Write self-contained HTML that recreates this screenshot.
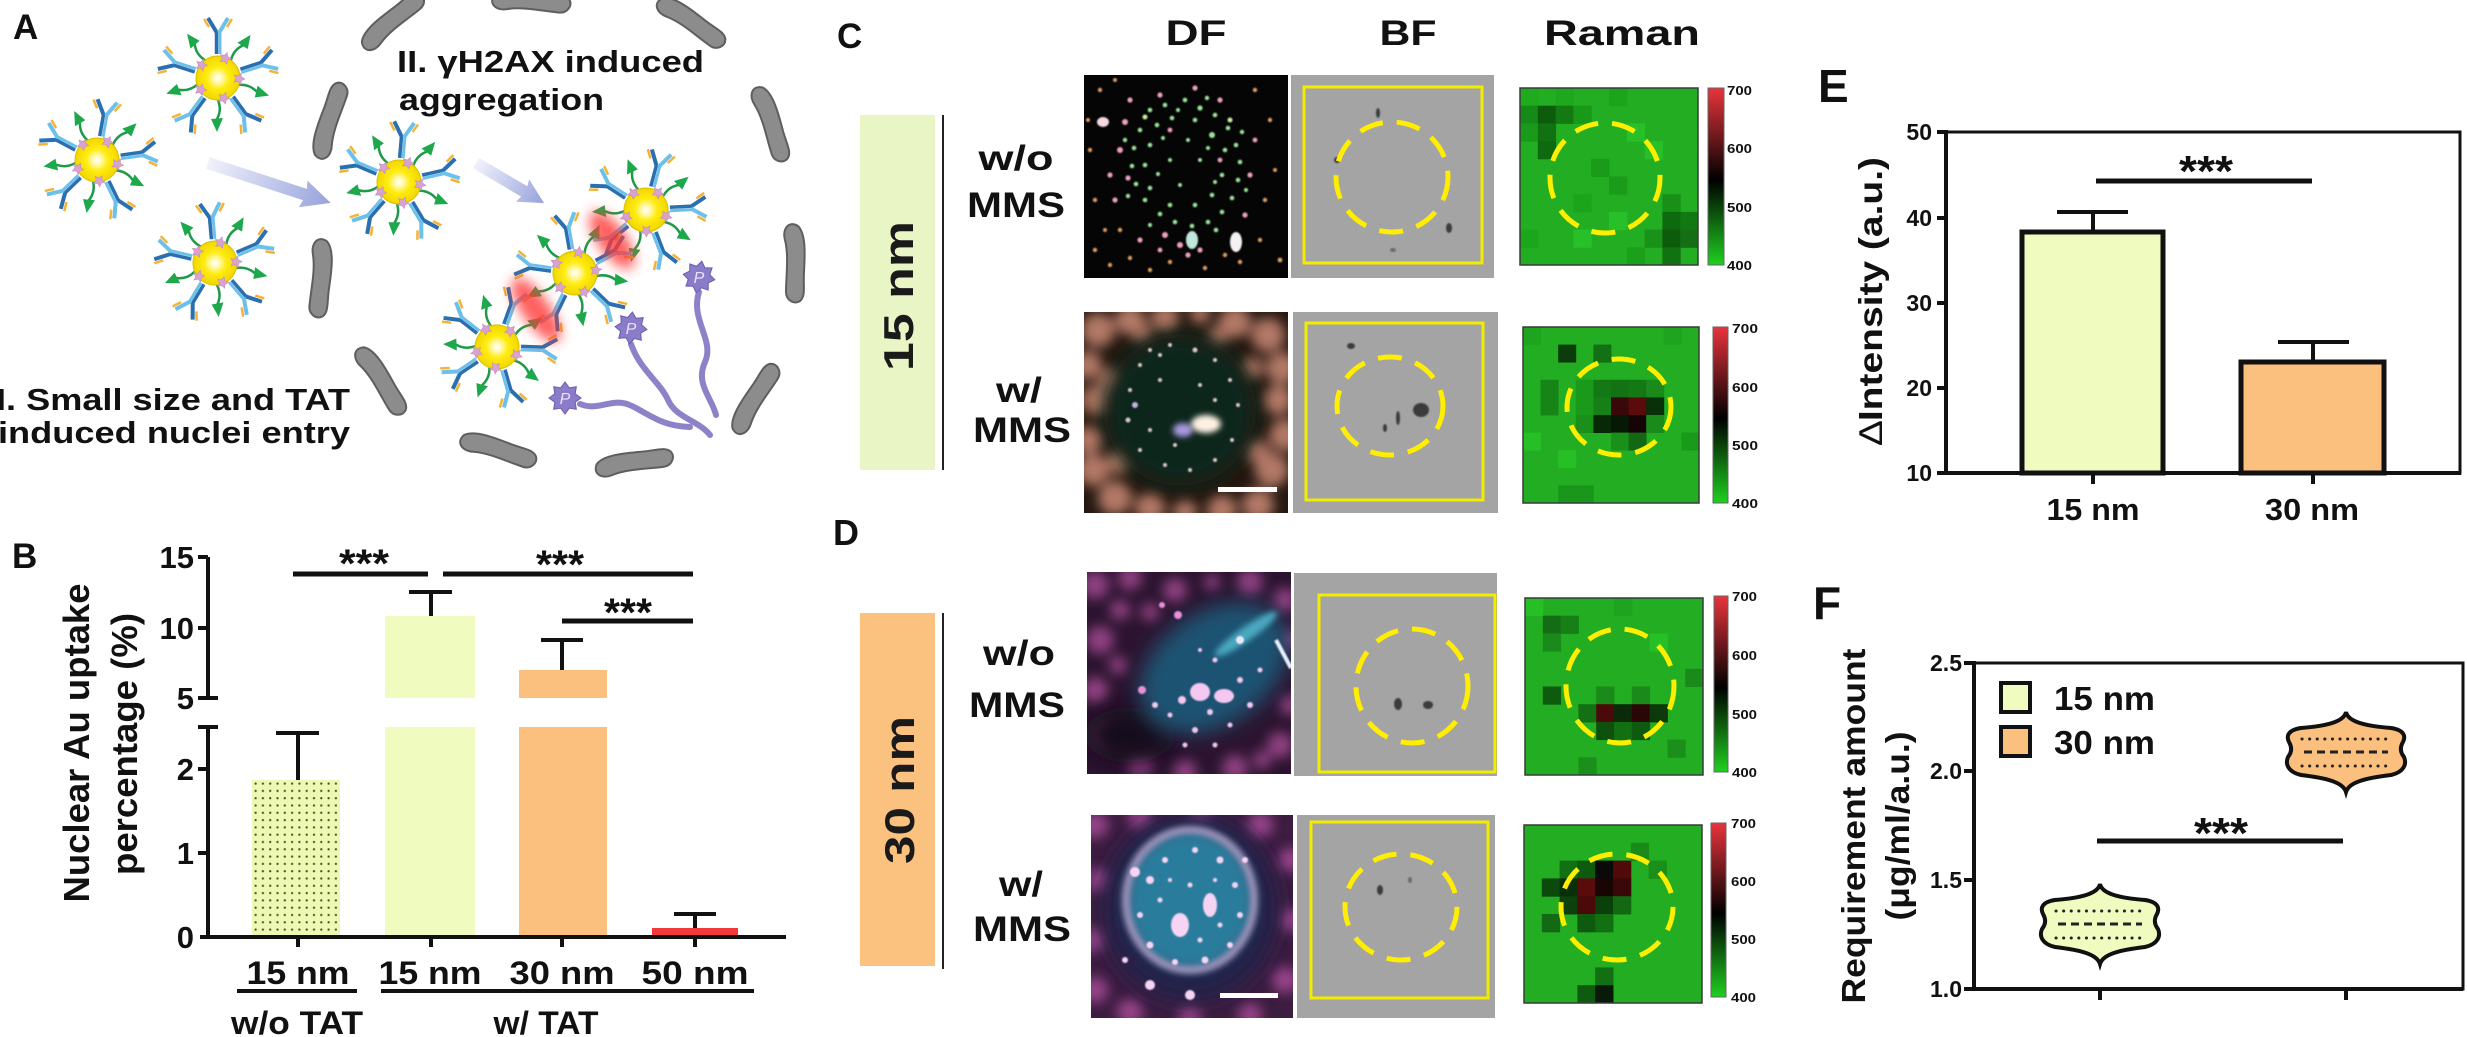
<!DOCTYPE html>
<html><head><meta charset="utf-8">
<style>
html,body{margin:0;padding:0;background:#fff;}
svg{display:block;}
text{font-family:"Liberation Sans",Arial,sans-serif;font-weight:bold;fill:#111;}
</style></head><body>
<svg width="2467" height="1037" viewBox="0 0 2467 1037" xmlns="http://www.w3.org/2000/svg">
<defs>
 <radialGradient id="gold" cx="0.5" cy="0.5" r="0.5">
  <stop offset="0" stop-color="#ffffff"/>
  <stop offset="0.22" stop-color="#fff8a8"/>
  <stop offset="0.5" stop-color="#ffec10"/>
  <stop offset="1" stop-color="#f0d600"/>
 </radialGradient>
 <linearGradient id="arrowg" x1="0" y1="0" x2="1" y2="0">
  <stop offset="0" stop-color="#eef0fa"/>
  <stop offset="1" stop-color="#8c98d8"/>
 </linearGradient>
 <linearGradient id="cbar" x1="0" y1="0" x2="0" y2="1">
  <stop offset="0" stop-color="#e8343c"/>
  <stop offset="0.52" stop-color="#000"/>
  <stop offset="1" stop-color="#1fd01f"/>
 </linearGradient>
 <filter id="b1" x="-20%" y="-20%" width="140%" height="140%"><feGaussianBlur stdDeviation="0.9"/></filter>
 <filter id="b3" x="-50%" y="-50%" width="200%" height="200%"><feGaussianBlur stdDeviation="3"/></filter>
 <filter id="b6" x="-50%" y="-50%" width="200%" height="200%"><feGaussianBlur stdDeviation="6"/></filter>
 <filter id="b10" x="-50%" y="-50%" width="200%" height="200%"><feGaussianBlur stdDeviation="10"/></filter>
 <pattern id="dots" width="7.3" height="7.3" patternUnits="userSpaceOnUse" x="252" y="780">
  <rect width="7.3" height="7.3" fill="#eef8b2"/>
  <circle cx="3.6" cy="3.6" r="1.15" fill="#3c5a2a"/>
 </pattern>
 <clipPath id="c1"><rect x="1084" y="75" width="204" height="203"/></clipPath>
 <clipPath id="c2"><rect x="1084" y="312" width="204" height="201"/></clipPath>
 <clipPath id="c3"><rect x="1087" y="572" width="204" height="202"/></clipPath>
 <clipPath id="c4"><rect x="1091" y="815" width="202" height="203"/></clipPath>

 <g id="ab">
  <path d="M-1.5,-24 L-1.5,-46" stroke="#2a6fb0" stroke-width="3.5"/>
  <path d="M2,-24 L2,-46" stroke="#6cc0ea" stroke-width="3"/>
  <path d="M-1,-45 L-10,-60" stroke="#2a6fb0" stroke-width="4" fill="none"/>
  <path d="M1,-45 L10,-60" stroke="#6cc0ea" stroke-width="4" fill="none"/>
  <path d="M-9,-51 L-14,-59" stroke="#f5b233" stroke-width="2.5"/>
  <path d="M9,-51 L14,-59" stroke="#f5b233" stroke-width="2.5"/>
 </g>
 <g id="ar">
  <path d="M0,-22 Q-4,-32 1,-41" stroke="#1e9a48" stroke-width="2.5" fill="none"/>
  <polygon points="1,-54 -5,-40 7,-41" fill="#1ea84c"/>
 </g>
 <polygon id="st" points="0,-6 1.76,-2.43 5.71,-1.85 2.85,0.93 3.53,4.85 0,3 -3.53,4.85 -2.85,0.93 -5.71,-1.85 -1.76,-2.43" fill="#d9a3cf" stroke="#c08cbc" stroke-width="0.6"/>
 <g id="np">
  <use href="#ab"/>
  <use href="#ab" transform="rotate(72)"/>
  <use href="#ab" transform="rotate(144)"/>
  <use href="#ab" transform="rotate(216)"/>
  <use href="#ab" transform="rotate(288)"/>
  <use href="#ar" transform="rotate(36)"/>
  <use href="#ar" transform="rotate(108)"/>
  <use href="#ar" transform="rotate(180)"/>
  <use href="#ar" transform="rotate(252)"/>
  <use href="#ar" transform="rotate(324)"/>
  <circle r="22" fill="url(#gold)" stroke="#dcc000" stroke-width="1"/>
  <use href="#st" transform="rotate(20) translate(0,-21)"/>
  <use href="#st" transform="rotate(92) translate(0,-21)"/>
  <use href="#st" transform="rotate(164) translate(0,-21)"/>
  <use href="#st" transform="rotate(236) translate(0,-21)"/>
  <use href="#st" transform="rotate(308) translate(0,-21)"/>
 </g>
 <path id="bean" d="M-36,-4 C-28,-12 -8,-11 10,-10 C24,-9 34,-12 39,-6 C43,0 38,8 30,8 C14,8 -6,5 -22,9 C-32,12 -42,6 -36,-4 Z" fill="#8c8c8c" stroke="#5e5e5e" stroke-width="2"/>
 <g id="pstar">
  <polygon points="0,-16 4.21,-10.16 11.31,-11.31 10.16,-4.21 16,0 10.16,4.21 11.31,11.31 4.21,10.16 0,16 -4.21,10.16 -11.31,11.31 -10.16,4.21 -16,0 -10.16,-4.21 -11.31,-11.31 -4.21,-10.16" fill="#8a7cc8" stroke="#6a5cb0" stroke-width="1"/>
 </g>
</defs>
<rect width="2467" height="1037" fill="#fff"/>

<!-- ================= PANEL A ================= -->
<text x="13" y="39" font-size="35">A</text>
<g>
 <use href="#bean" transform="translate(392,22) rotate(-40)"/>
 <use href="#bean" transform="translate(530,2) rotate(5)"/>
 <use href="#bean" transform="translate(690,22) rotate(35)"/>
 <use href="#bean" transform="translate(330,122) rotate(-72)"/>
 <use href="#bean" transform="translate(770,123) rotate(72)"/>
 <use href="#bean" transform="translate(320,277) rotate(95)"/>
 <use href="#bean" transform="translate(794,262) rotate(90)"/>
 <use href="#bean" transform="translate(380,380) rotate(58)"/>
 <use href="#bean" transform="translate(755,400) rotate(-58)"/>
 <use href="#bean" transform="translate(497,450) rotate(18)"/>
 <use href="#bean" transform="translate(633,463) rotate(-8)"/>
</g>
<g transform="translate(208,163) rotate(18)" opacity="0.9">
 <polygon points="0,-6 102,-6 100,-14 129,0 100,14 102,6 0,6" fill="url(#arrowg)"/>
</g>
<g transform="translate(476,163) rotate(30.5)" opacity="0.9">
 <polygon points="0,-6 56,-6 54,-13 79,0 54,13 56,6 0,6" fill="url(#arrowg)"/>
</g>
<g fill="none" stroke="#8d82c8" stroke-width="6" stroke-linecap="round">
 <path d="M699,292 C690,320 715,340 705,362 S 712,398 716,415"/>
 <path d="M631,344 C640,370 660,382 668,400 S 698,420 710,435"/>
 <path d="M580,404 C600,412 612,396 632,406 S 662,426 690,427"/>
</g>
<use href="#np" transform="translate(218,78)"/>
<use href="#np" transform="translate(97,160) rotate(10)"/>
<use href="#np" transform="translate(215,263) rotate(-5)"/>
<use href="#np" transform="translate(399,182) rotate(5)"/>
<use href="#np" transform="translate(646,210) rotate(15)"/>
<use href="#np" transform="translate(575,273) rotate(-10)"/>
<use href="#np" transform="translate(497,347) rotate(20)"/>
<use href="#pstar" transform="translate(699,277) rotate(10)"/>
<use href="#pstar" transform="translate(631,328) rotate(5)"/>
<use href="#pstar" transform="translate(565,398)"/>
<text x="699" y="283" font-size="16" font-style="italic" text-anchor="middle" style="fill:#e8e4ff;font-weight:normal">P</text>
<text x="631" y="334" font-size="16" font-style="italic" text-anchor="middle" style="fill:#e8e4ff;font-weight:normal">P</text>
<text x="565" y="404" font-size="16" font-style="italic" text-anchor="middle" style="fill:#e8e4ff;font-weight:normal">P</text>
<g filter="url(#b6)" opacity="0.8" fill="#ff3838">
 <ellipse cx="0" cy="0" rx="34" ry="14" transform="translate(612,240) rotate(55)"/>
 <ellipse cx="0" cy="0" rx="38" ry="14" transform="translate(536,310) rotate(55)"/>
</g>
<text x="397" y="72" font-size="31" textLength="307" lengthAdjust="spacingAndGlyphs">II. γH2AX induced</text>
<text x="399" y="110" font-size="31" textLength="205" lengthAdjust="spacingAndGlyphs">aggregation</text>
<text x="-4" y="410" font-size="31" textLength="354" lengthAdjust="spacingAndGlyphs">I. Small size and TAT</text>
<text x="-2" y="443" font-size="31" textLength="352" lengthAdjust="spacingAndGlyphs">induced nuclei entry</text>

<!-- ================= PANEL B ================= -->
<text x="12" y="568" font-size="35">B</text>
<text transform="translate(89,743) rotate(-90)" text-anchor="middle" font-size="36" textLength="319" lengthAdjust="spacingAndGlyphs">Nuclear Au uptake</text>
<text transform="translate(137,744) rotate(-90)" text-anchor="middle" font-size="36" textLength="262" lengthAdjust="spacingAndGlyphs">percentage (%)</text>
<rect x="252" y="780" width="88" height="157" fill="url(#dots)"/>
<rect x="385" y="727" width="90" height="210" fill="#f0fcbf"/>
<rect x="385" y="616" width="90" height="82" fill="#f0fcbf"/>
<rect x="519" y="727" width="88" height="210" fill="#fcc07e"/>
<rect x="519" y="670" width="88" height="28" fill="#fcc07e"/>
<rect x="652" y="928" width="86" height="9" fill="#f23a3a"/>
<g stroke="#111" stroke-width="4" fill="none">
 <path d="M298,780 V733 M276,733 H319"/>
 <path d="M431,616 V592 M409,592 H452"/>
 <path d="M562,670 V640 M541,640 H583"/>
 <path d="M695,928 V914 M674,914 H716"/>
</g>
<g stroke="#111" stroke-width="4" fill="none">
 <path d="M208,557 V698"/>
 <path d="M208,727 V937"/>
 <path d="M198,698 H218 M198,727 H218"/>
 <path d="M198,557 H208 M198,628 H208 M198,769 H208 M198,853 H208"/>
 <path d="M200,937 H786"/>
 <path d="M298,937 V947 M431,937 V947 M562,937 V947 M695,937 V947"/>
</g>
<g font-size="31" text-anchor="end">
 <text x="194" y="568">15</text>
 <text x="194" y="639">10</text>
 <text x="194" y="709">5</text>
 <text x="194" y="780">2</text>
 <text x="194" y="864">1</text>
 <text x="194" y="948">0</text>
</g>
<g stroke="#111" stroke-width="5">
 <path d="M293,574 H428"/>
 <path d="M443,574 H693"/>
 <path d="M562,621 H693"/>
</g>
<g font-size="40" text-anchor="middle">
 <text x="364" y="577" textLength="50" lengthAdjust="spacingAndGlyphs">***</text>
 <text x="560" y="578" textLength="48" lengthAdjust="spacingAndGlyphs">***</text>
 <text x="628" y="626" textLength="48" lengthAdjust="spacingAndGlyphs">***</text>
</g>
<g font-size="32" text-anchor="middle">
 <text x="298" y="984" textLength="103" lengthAdjust="spacingAndGlyphs">15 nm</text>
 <text x="430" y="984" textLength="103" lengthAdjust="spacingAndGlyphs">15 nm</text>
 <text x="562" y="984" textLength="105" lengthAdjust="spacingAndGlyphs">30 nm</text>
 <text x="695" y="984" textLength="107" lengthAdjust="spacingAndGlyphs">50 nm</text>
 <text x="297" y="1034" textLength="132" lengthAdjust="spacingAndGlyphs">w/o TAT</text>
 <text x="546" y="1034" textLength="105" lengthAdjust="spacingAndGlyphs">w/ TAT</text>
</g>
<g stroke="#111" stroke-width="4">
 <path d="M237,991 H357"/>
 <path d="M381,991 H754"/>
</g>

<!-- ================= PANEL C / D labels ================= -->
<text x="837" y="48" font-size="35">C</text>
<text x="833" y="545" font-size="36">D</text>
<g font-size="35" text-anchor="middle">
 <text x="1196" y="45" textLength="61" lengthAdjust="spacingAndGlyphs">DF</text>
 <text x="1408" y="45" textLength="57" lengthAdjust="spacingAndGlyphs">BF</text>
 <text x="1622" y="45" textLength="156" lengthAdjust="spacingAndGlyphs">Raman</text>
</g>
<rect x="860" y="115" width="75" height="355" fill="#eaf5c6"/>
<rect x="860" y="613" width="75" height="353" fill="#fbc17f"/>
<text transform="translate(913,296) rotate(-90)" text-anchor="middle" font-size="42" textLength="150" lengthAdjust="spacingAndGlyphs" style="fill:#1a1a1a">15 nm</text>
<text transform="translate(914,790) rotate(-90)" text-anchor="middle" font-size="42" textLength="148" lengthAdjust="spacingAndGlyphs" style="fill:#1a1a1a">30 nm</text>
<g stroke="#222" stroke-width="2">
 <path d="M943,115 V470"/>
 <path d="M943,613 V969"/>
</g>
<g font-size="35" text-anchor="middle">
 <text x="1016" y="170" textLength="75" lengthAdjust="spacingAndGlyphs">w/o</text>
 <text x="1016" y="217" textLength="98" lengthAdjust="spacingAndGlyphs">MMS</text>
 <text x="1019" y="402" textLength="46" lengthAdjust="spacingAndGlyphs">w/</text>
 <text x="1022" y="442" textLength="98" lengthAdjust="spacingAndGlyphs">MMS</text>
 <text x="1019" y="665" textLength="72" lengthAdjust="spacingAndGlyphs">w/o</text>
 <text x="1017" y="717" textLength="96" lengthAdjust="spacingAndGlyphs">MMS</text>
 <text x="1021" y="896" textLength="44" lengthAdjust="spacingAndGlyphs">w/</text>
 <text x="1022" y="941" textLength="98" lengthAdjust="spacingAndGlyphs">MMS</text>
</g>

<!-- DF1 -->
<g clip-path="url(#c1)">
 <rect x="1084" y="75" width="204" height="203" fill="#050505"/>
 <g filter="url(#b1)">
 <g fill="#9ae39a">
  <circle cx="1150" cy="110" r="2.3"/><circle cx="1165" cy="105" r="2.3"/><circle cx="1185" cy="100" r="2.3"/><circle cx="1200" cy="108" r="2.6"/><circle cx="1215" cy="115" r="2.3"/><circle cx="1228" cy="128" r="2.3"/><circle cx="1236" cy="145" r="2.3"/><circle cx="1240" cy="162" r="2.3"/><circle cx="1238" cy="180" r="2.3"/><circle cx="1232" cy="198" r="2.3"/><circle cx="1222" cy="212" r="2.3"/><circle cx="1208" cy="222" r="2.3"/><circle cx="1192" cy="226" r="2.3"/><circle cx="1175" cy="222" r="2.3"/><circle cx="1160" cy="214" r="2.3"/><circle cx="1145" cy="200" r="2.3"/><circle cx="1136" cy="184" r="2.3"/><circle cx="1132" cy="166" r="2.3"/><circle cx="1134" cy="148" r="2.3"/><circle cx="1140" cy="130" r="2.3"/><circle cx="1157" cy="125" r="2.3"/><circle cx="1172" cy="118" r="2.3"/><circle cx="1195" cy="120" r="2.3"/><circle cx="1212" cy="135" r="3"/><circle cx="1225" cy="150" r="2.3"/><circle cx="1222" cy="175" r="2.3"/><circle cx="1212" cy="195" r="2.3"/><circle cx="1195" cy="205" r="2.3"/><circle cx="1170" cy="205" r="2.3"/><circle cx="1150" cy="188" r="2.3"/><circle cx="1145" cy="165" r="2.3"/><circle cx="1150" cy="145" r="2.3"/><circle cx="1188" cy="140" r="2"/><circle cx="1200" cy="160" r="2"/><circle cx="1170" cy="160" r="2"/><circle cx="1180" cy="185" r="2"/>
  <circle cx="1207" cy="98" r="2.2"/><circle cx="1178" cy="110" r="2"/><circle cx="1242" cy="132" r="2.2"/><circle cx="1246" cy="190" r="2"/><circle cx="1216" cy="230" r="2.3"/><circle cx="1150" cy="225" r="2.1"/><circle cx="1128" cy="196" r="2.2"/><circle cx="1125" cy="140" r="2.2"/><circle cx="1163" cy="138" r="2"/><circle cx="1208" cy="148" r="2"/><circle cx="1215" cy="182" r="2"/><circle cx="1158" cy="174" r="2"/><circle cx="1230" cy="120" r="2.5" fill="#c8f0a0"/><circle cx="1145" cy="117" r="2.5" fill="#c8f0a0"/>
 </g>
 <g fill="#ee9fbd">
  <circle cx="1120" cy="150" r="3"/><circle cx="1160" cy="95" r="2.6"/><circle cx="1220" cy="100" r="2.6"/><circle cx="1250" cy="175" r="2.6"/><circle cx="1245" cy="215" r="2.6"/><circle cx="1180" cy="245" r="3"/><circle cx="1140" cy="240" r="2.6"/><circle cx="1115" cy="200" r="2.6"/><circle cx="1110" cy="175" r="2.6"/><circle cx="1200" cy="250" r="2.6"/><circle cx="1130" cy="100" r="2.6"/><circle cx="1195" cy="88" r="2.6"/><circle cx="1165" cy="235" r="3"/>
  <circle cx="1125" cy="122" r="3"/><circle cx="1128" cy="178" r="2.6"/><circle cx="1170" cy="130" r="2.4"/><circle cx="1220" cy="160" r="2.4"/><circle cx="1255" cy="140" r="2.4"/><circle cx="1188" cy="255" r="2.6"/><circle cx="1160" cy="250" r="2.4"/>
 </g>
 <g fill="#d99b5c">
  <circle cx="1095" cy="250" r="2.2"/><circle cx="1110" cy="265" r="2.2"/><circle cx="1130" cy="258" r="2.2"/><circle cx="1150" cy="270" r="2.2"/><circle cx="1170" cy="262" r="2.2"/><circle cx="1205" cy="268" r="2.2"/><circle cx="1240" cy="262" r="2.2"/><circle cx="1260" cy="240" r="2.2"/><circle cx="1265" cy="200" r="2.2"/><circle cx="1100" cy="90" r="2.2"/><circle cx="1090" cy="150" r="2.2"/><circle cx="1095" cy="200" r="2.2"/><circle cx="1270" cy="120" r="2.2"/><circle cx="1255" cy="90" r="2.2"/><circle cx="1120" cy="230" r="2.2"/>
  <circle cx="1105" cy="230" r="2"/><circle cx="1280" cy="260" r="2.4"/><circle cx="1225" cy="255" r="2.2"/><circle cx="1115" cy="80" r="2"/><circle cx="1275" cy="170" r="2"/><circle cx="1088" cy="120" r="2"/>
 </g>
 <ellipse cx="1103" cy="122" rx="6" ry="5" fill="#f6d8e0"/>
 <ellipse cx="1236" cy="242" rx="6" ry="10" fill="#f4f0f4"/>
 <ellipse cx="1192" cy="240" rx="6" ry="9" fill="#bfe8dc"/>
 </g>
</g>

<!-- DF2 -->
<g clip-path="url(#c2)">
 <rect x="1084" y="312" width="204" height="201" fill="#24170f"/>
 <g filter="url(#b6)" fill="#b27866">
  <circle cx="1098" cy="330" r="17"/><circle cx="1130" cy="320" r="15"/><circle cx="1165" cy="318" r="14"/><circle cx="1235" cy="322" r="16"/><circle cx="1268" cy="335" r="17"/><circle cx="1282" cy="368" r="16"/><circle cx="1278" cy="400" r="15"/><circle cx="1285" cy="435" r="16"/><circle cx="1272" cy="470" r="17"/><circle cx="1258" cy="505" r="16"/><circle cx="1222" cy="510" r="15"/><circle cx="1185" cy="512" r="12"/><circle cx="1150" cy="508" r="15"/><circle cx="1115" cy="498" r="17"/><circle cx="1093" cy="470" r="16"/><circle cx="1089" cy="440" r="14"/><circle cx="1096" cy="400" r="15"/><circle cx="1088" cy="365" r="14"/><circle cx="1200" cy="314" r="10"/>
  <circle cx="1110" cy="380" r="12"/><circle cx="1252" cy="368" r="11"/><circle cx="1258" cy="452" r="12"/><circle cx="1118" cy="462" r="12"/><circle cx="1142" cy="333" r="10"/><circle cx="1218" cy="336" r="10"/>
 </g>
 <circle cx="1180" cy="410" r="76" fill="#10271f" filter="url(#b10)"/>
 <g fill="#dcc8c0" filter="url(#b1)">
  <circle cx="1150" cy="350" r="2"/><circle cx="1170" cy="345" r="2"/><circle cx="1195" cy="350" r="2.5"/><circle cx="1215" cy="360" r="2"/><circle cx="1230" cy="380" r="2"/><circle cx="1238" cy="405" r="2"/><circle cx="1232" cy="440" r="2"/><circle cx="1215" cy="460" r="2"/><circle cx="1190" cy="470" r="2"/><circle cx="1165" cy="465" r="2"/><circle cx="1140" cy="450" r="2"/><circle cx="1128" cy="420" r="2.5"/><circle cx="1130" cy="390" r="2"/><circle cx="1140" cy="365" r="2"/><circle cx="1160" cy="380" r="2"/><circle cx="1200" cy="385" r="2"/><circle cx="1215" cy="400" r="2"/><circle cx="1150" cy="430" r="2"/><circle cx="1175" cy="445" r="2"/><circle cx="1160" cy="355" r="2"/><circle cx="1135" cy="405" r="3" fill="#c8b0e0"/>
 </g>
 <ellipse cx="1183" cy="430" rx="10" ry="7" fill="#a898e0" filter="url(#b3)"/>
 <ellipse cx="1206" cy="424" rx="15" ry="9" fill="#fff2e4" filter="url(#b3)"/>
 <rect x="1218" y="487" width="59" height="5" fill="#fff"/>
</g>

<!-- DF3 -->
<g clip-path="url(#c3)">
 <rect x="1087" y="572" width="204" height="202" fill="#2c1430"/>
 <g filter="url(#b6)" fill="#a04890" opacity="0.85">
  <circle cx="1095" cy="585" r="14"/><circle cx="1130" cy="578" r="12"/><circle cx="1175" cy="590" r="12"/><circle cx="1250" cy="582" r="13"/><circle cx="1285" cy="600" r="12"/><circle cx="1290" cy="640" r="10"/><circle cx="1100" cy="640" r="14"/><circle cx="1095" cy="690" r="13"/><circle cx="1105" cy="735" r="12"/><circle cx="1140" cy="765" r="13"/><circle cx="1185" cy="772" r="12"/><circle cx="1235" cy="768" r="13"/><circle cx="1280" cy="745" r="13"/><circle cx="1290" cy="705" r="10"/><circle cx="1120" cy="610" r="10"/>
  <circle cx="1150" cy="612" r="9"/><circle cx="1118" cy="665" r="9"/><circle cx="1212" cy="582" r="8"/><circle cx="1262" cy="760" r="9"/>
 </g>
 <ellipse cx="1130" cy="735" rx="45" ry="28" fill="#140a1e" filter="url(#b10)"/>
 <ellipse cx="0" cy="0" rx="82" ry="56" fill="#1d5272" filter="url(#b10)" transform="translate(1214,668) rotate(-35)"/>
 <ellipse cx="0" cy="0" rx="38" ry="7" fill="#4aa8c0" filter="url(#b3)" transform="translate(1246,634) rotate(-35)"/>
 <g fill="#f4c8f0" filter="url(#b1)">
  <ellipse cx="1200" cy="692" rx="10" ry="9"/><ellipse cx="1224" cy="696" rx="10" ry="7"/><circle cx="1182" cy="700" r="4"/><circle cx="1210" cy="712" r="3"/><circle cx="1240" cy="680" r="3"/><circle cx="1250" cy="705" r="3"/><circle cx="1195" cy="730" r="3"/><circle cx="1230" cy="725" r="2.5"/><circle cx="1170" cy="715" r="2.5"/><circle cx="1215" cy="660" r="2.5"/><circle cx="1200" cy="650" r="2"/><circle cx="1260" cy="670" r="2.5"/><circle cx="1155" cy="705" r="3"/><circle cx="1142" cy="690" r="4" fill="#e890d8"/><circle cx="1178" cy="615" r="4" fill="#e890d8"/><circle cx="1162" cy="605" r="3" fill="#e890d8"/><circle cx="1240" cy="640" r="4" fill="#f0e8f8"/><circle cx="1185" cy="745" r="2.5"/><circle cx="1215" cy="745" r="2.5"/>
 </g>
 <path d="M1276,640 L1291,668" stroke="#e8f0ff" stroke-width="4" filter="url(#b1)"/>
</g>

<!-- DF4 -->
<g clip-path="url(#c4)">
 <rect x="1091" y="815" width="202" height="203" fill="#3c1c40"/>
 <g filter="url(#b6)" fill="#a84c98" opacity="0.85">
  <circle cx="1095" cy="825" r="13"/><circle cx="1140" cy="818" r="12"/><circle cx="1200" cy="815" r="11"/><circle cx="1260" cy="825" r="13"/><circle cx="1290" cy="860" r="12"/><circle cx="1292" cy="920" r="12"/><circle cx="1285" cy="980" r="13"/><circle cx="1250" cy="1015" r="12"/><circle cx="1190" cy="1018" r="12"/><circle cx="1130" cy="1012" r="13"/><circle cx="1095" cy="990" r="13"/><circle cx="1093" cy="940" r="12"/><circle cx="1098" cy="880" r="12"/>
 </g>
 <ellipse cx="1190" cy="908" rx="88" ry="94" fill="#22204a" filter="url(#b10)"/>
 <ellipse cx="1190" cy="900" rx="64" ry="70" fill="#2c7c9c" filter="url(#b6)"/>
 <ellipse cx="1190" cy="900" rx="64" ry="70" fill="none" stroke="#e8c0e8" stroke-width="8" opacity="0.6" filter="url(#b3)"/>
 <g fill="#f8d4f4" filter="url(#b1)">
  <ellipse cx="1180" cy="925" rx="9" ry="12"/><ellipse cx="1210" cy="905" rx="7" ry="12"/><circle cx="1150" cy="880" r="4"/><circle cx="1165" cy="860" r="3"/><circle cx="1195" cy="850" r="3"/><circle cx="1220" cy="860" r="3.5"/><circle cx="1235" cy="885" r="3"/><circle cx="1240" cy="915" r="3"/><circle cx="1230" cy="945" r="3"/><circle cx="1205" cy="960" r="3.5"/><circle cx="1175" cy="962" r="3"/><circle cx="1150" cy="945" r="3.5"/><circle cx="1140" cy="915" r="3"/><circle cx="1160" cy="900" r="2.5"/><circle cx="1190" cy="885" r="2.5"/><circle cx="1200" cy="940" r="2.5"/><circle cx="1220" cy="925" r="2.5"/><circle cx="1135" cy="872" r="5"/><circle cx="1150" cy="985" r="5"/><circle cx="1190" cy="995" r="5"/><circle cx="1125" cy="960" r="3"/><circle cx="1245" cy="860" r="3"/><circle cx="1170" cy="880" r="2"/><circle cx="1215" cy="880" r="2"/>
 </g>
 <rect x="1220" y="993" width="58" height="5" fill="#fff"/>
</g>

<!-- BF images -->
<g>
 <rect x="1291" y="75" width="203" height="203" fill="#a4a4a4"/>
 <rect x="1293" y="312" width="205" height="201" fill="#a4a4a4"/>
 <rect x="1294" y="573" width="203" height="203" fill="#a4a4a4"/>
 <rect x="1297" y="815" width="198" height="203" fill="#a4a4a4"/>
 <g fill="#3a3a3a" filter="url(#b1)">
  <ellipse cx="1378" cy="113" rx="2" ry="5"/><ellipse cx="1337" cy="160" rx="3" ry="3"/><ellipse cx="1449" cy="228" rx="3" ry="5"/><ellipse cx="1393" cy="250" rx="3" ry="2" fill="#6a6a6a"/>
  <ellipse cx="1351" cy="346" rx="4" ry="3"/><ellipse cx="1398" cy="418" rx="2" ry="7"/><ellipse cx="1421" cy="410" rx="8" ry="7"/><ellipse cx="1385" cy="428" rx="2" ry="4"/>
  <ellipse cx="1398" cy="704" rx="4" ry="6"/><ellipse cx="1428" cy="705" rx="5" ry="4"/>
  <ellipse cx="1380" cy="890" rx="3" ry="5"/><ellipse cx="1410" cy="880" rx="2" ry="3" fill="#6a6a6a"/>
 </g>
 <g fill="none" stroke="#f2ec00" stroke-width="3">
  <rect x="1304" y="87" width="178" height="176"/>
  <rect x="1306" y="323" width="177" height="177"/>
  <rect x="1319" y="595" width="176" height="177"/>
  <rect x="1311" y="822" width="177" height="176"/>
 </g>
</g>

<!-- Raman maps -->
<g>
 <rect x="1520" y="88" width="178" height="177" fill="#22ad22"/>
 <rect x="1520" y="88" width="18.3" height="18.2" fill="#1eac1e"/>
 <rect x="1555.6" y="88" width="18.3" height="18.2" fill="#1ea81e"/>
 <rect x="1609" y="88" width="18.3" height="18.2" fill="#1ca41c"/>
 <rect x="1520" y="105.7" width="18.3" height="18.2" fill="#168a16"/>
 <rect x="1537.8" y="105.7" width="18.3" height="18.2" fill="#0c5c0c"/>
 <rect x="1555.6" y="105.7" width="18.3" height="18.2" fill="#137a13"/>
 <rect x="1573.4" y="105.7" width="18.3" height="18.2" fill="#189a18"/>
 <rect x="1520" y="123.4" width="18.3" height="18.2" fill="#1a9a1a"/>
 <rect x="1537.8" y="123.4" width="18.3" height="18.2" fill="#127212"/>
 <rect x="1537.8" y="141.1" width="18.3" height="18.2" fill="#0e6a0e"/>
 <rect x="1626.8" y="123.4" width="18.3" height="18.2" fill="#28c028"/>
 <rect x="1644.6" y="141.1" width="18.3" height="18.2" fill="#28c028"/>
 <rect x="1591.2" y="158.8" width="18.3" height="18.2" fill="#1a9c1a"/>
 <rect x="1609" y="176.5" width="18.3" height="18.2" fill="#1a9c1a"/>
 <rect x="1573.4" y="194.2" width="18.3" height="18.2" fill="#1ca41c"/>
 <rect x="1662.4" y="194.2" width="18.3" height="18.2" fill="#189018"/>
 <rect x="1609" y="211.9" width="18.3" height="18.2" fill="#28c028"/>
 <rect x="1662.4" y="211.9" width="18.3" height="18.2" fill="#0e6a0e"/>
 <rect x="1680.2" y="211.9" width="17.8" height="18.2" fill="#127812"/>
 <rect x="1520" y="229.6" width="18.3" height="18.2" fill="#1ca61c"/>
 <rect x="1573.4" y="229.6" width="18.3" height="18.2" fill="#28c028"/>
 <rect x="1644.6" y="229.6" width="18.3" height="18.2" fill="#1a921a"/>
 <rect x="1662.4" y="229.6" width="18.3" height="18.2" fill="#0c5c0c"/>
 <rect x="1680.2" y="229.6" width="17.8" height="18.2" fill="#146e14"/>
 <rect x="1626.8" y="247.3" width="18.3" height="17.7" fill="#1aa01a"/>
 <rect x="1662.4" y="247.3" width="18.3" height="17.7" fill="#127212"/>
 <rect x="1520" y="88" width="178" height="177" fill="none" stroke="#3a3a3a" stroke-width="1.5"/>

 <rect x="1523" y="327" width="176" height="176" fill="#22ad22"/>
 <rect x="1523" y="327" width="18" height="18" fill="#1ea41e"/>
 <rect x="1663.8" y="327" width="18" height="18" fill="#1ea41e"/>
 <rect x="1558.2" y="344.6" width="18" height="18" fill="#0b3d0b"/>
 <rect x="1593.4" y="344.6" width="18" height="18" fill="#147014"/>
 <rect x="1540.6" y="379.8" width="18" height="18" fill="#168416"/>
 <rect x="1575.8" y="379.8" width="18" height="18" fill="#1a9a1a"/>
 <rect x="1593.4" y="379.8" width="18" height="18" fill="#147814"/>
 <rect x="1611" y="379.8" width="18" height="18" fill="#137213"/>
 <rect x="1628.6" y="379.8" width="18" height="18" fill="#147814"/>
 <rect x="1646.2" y="379.8" width="18" height="18" fill="#1a8a1a"/>
 <rect x="1540.6" y="397.4" width="18" height="18" fill="#168416"/>
 <rect x="1575.8" y="397.4" width="18" height="18" fill="#1a9a1a"/>
 <rect x="1593.4" y="397.4" width="18" height="18" fill="#168016"/>
 <rect x="1611" y="397.4" width="18" height="18" fill="#3a0808"/>
 <rect x="1628.6" y="397.4" width="18" height="18" fill="#5a0c0c"/>
 <rect x="1646.2" y="397.4" width="18" height="18" fill="#0a300a"/>
 <rect x="1575.8" y="415" width="18" height="18" fill="#1a901a"/>
 <rect x="1593.4" y="415" width="18" height="18" fill="#082808"/>
 <rect x="1611" y="415" width="18" height="18" fill="#061806"/>
 <rect x="1628.6" y="415" width="18" height="18" fill="#140404"/>
 <rect x="1646.2" y="415" width="18" height="18" fill="#1a8a1a"/>
 <rect x="1611" y="432.6" width="18" height="18" fill="#1a901a"/>
 <rect x="1628.6" y="432.6" width="18" height="18" fill="#146814"/>
 <rect x="1681.4" y="432.6" width="17.6" height="18" fill="#1a9a1a"/>
 <rect x="1523" y="432.6" width="18" height="18" fill="#26c026"/>
 <rect x="1558.2" y="450.2" width="18" height="18" fill="#26c026"/>
 <rect x="1558.2" y="485.4" width="18" height="17.6" fill="#1a961a"/>
 <rect x="1575.8" y="485.4" width="18" height="17.6" fill="#1a961a"/>
 <rect x="1523" y="327" width="176" height="176" fill="none" stroke="#3a3a3a" stroke-width="1.5"/>

 <rect x="1525" y="598" width="178" height="177" fill="#22ad22"/>
 <rect x="1525" y="598" width="18.3" height="18.2" fill="#26c026"/>
 <rect x="1614" y="598" width="18.3" height="18.2" fill="#1ea41e"/>
 <rect x="1542.8" y="615.7" width="18.3" height="18.2" fill="#146c14"/>
 <rect x="1560.6" y="615.7" width="18.3" height="18.2" fill="#168016"/>
 <rect x="1542.8" y="633.4" width="18.3" height="18.2" fill="#1a8a1a"/>
 <rect x="1649.6" y="633.4" width="18.3" height="18.2" fill="#26c026"/>
 <rect x="1685.2" y="668.8" width="17.8" height="18.2" fill="#1a8a1a"/>
 <rect x="1542.8" y="686.5" width="18.3" height="18.2" fill="#0e5a0e"/>
 <rect x="1596.2" y="686.5" width="18.3" height="18.2" fill="#1a8a1a"/>
 <rect x="1631.8" y="686.5" width="18.3" height="18.2" fill="#1a8a1a"/>
 <rect x="1578.4" y="704.2" width="18.3" height="18.2" fill="#147014"/>
 <rect x="1596.2" y="704.2" width="18.3" height="18.2" fill="#4a0a0a"/>
 <rect x="1614" y="704.2" width="18.3" height="18.2" fill="#0a2a0a"/>
 <rect x="1631.8" y="704.2" width="18.3" height="18.2" fill="#2a0606"/>
 <rect x="1649.6" y="704.2" width="18.3" height="18.2" fill="#0c3a0c"/>
 <rect x="1596.2" y="721.9" width="18.3" height="18.2" fill="#0e500e"/>
 <rect x="1614" y="721.9" width="18.3" height="18.2" fill="#127012"/>
 <rect x="1631.8" y="721.9" width="18.3" height="18.2" fill="#0e5a0e"/>
 <rect x="1667.4" y="739.6" width="18.3" height="18.2" fill="#1a901a"/>
 <rect x="1578.4" y="757.3" width="18.3" height="17.7" fill="#1a901a"/>
 <rect x="1525" y="598" width="178" height="177" fill="none" stroke="#3a3a3a" stroke-width="1.5"/>

 <rect x="1524" y="825" width="178" height="178" fill="#22ad22"/>
 <rect x="1630.8" y="842.8" width="18.3" height="18.3" fill="#1a8a1a"/>
 <rect x="1559.6" y="860.6" width="18.3" height="18.3" fill="#127012"/>
 <rect x="1577.4" y="860.6" width="18.3" height="18.3" fill="#0e5a0e"/>
 <rect x="1595.2" y="860.6" width="18.3" height="18.3" fill="#0a0a0a"/>
 <rect x="1613" y="860.6" width="18.3" height="18.3" fill="#500a0a"/>
 <rect x="1648.6" y="860.6" width="18.3" height="18.3" fill="#1a901a"/>
 <rect x="1541.8" y="878.4" width="18.3" height="18.3" fill="#0c4a0c"/>
 <rect x="1559.6" y="878.4" width="18.3" height="18.3" fill="#0a300a"/>
 <rect x="1577.4" y="878.4" width="18.3" height="18.3" fill="#5a0c0c"/>
 <rect x="1595.2" y="878.4" width="18.3" height="18.3" fill="#1a0505"/>
 <rect x="1613" y="878.4" width="18.3" height="18.3" fill="#3a0808"/>
 <rect x="1559.6" y="896.2" width="18.3" height="18.3" fill="#0c400c"/>
 <rect x="1577.4" y="896.2" width="18.3" height="18.3" fill="#4a0a0a"/>
 <rect x="1595.2" y="896.2" width="18.3" height="18.3" fill="#0a400a"/>
 <rect x="1613" y="896.2" width="18.3" height="18.3" fill="#146814"/>
 <rect x="1541.8" y="914" width="18.3" height="18.3" fill="#146a14"/>
 <rect x="1577.4" y="914" width="18.3" height="18.3" fill="#0e5a0e"/>
 <rect x="1595.2" y="914" width="18.3" height="18.3" fill="#127012"/>
 <rect x="1595.2" y="967.4" width="18.3" height="18.3" fill="#127012"/>
 <rect x="1577.4" y="985.2" width="18.3" height="17.8" fill="#0e5a0e"/>
 <rect x="1595.2" y="985.2" width="18.3" height="17.8" fill="#0a1a0a"/>
 <rect x="1524" y="825" width="178" height="178" fill="none" stroke="#3a3a3a" stroke-width="1.5"/>
</g>
<g fill="none" stroke="#ffee00" stroke-width="5" stroke-dasharray="24 14">
 <ellipse cx="1392" cy="177" rx="56" ry="55"/>
 <ellipse cx="1605" cy="178" rx="55" ry="55"/>
 <ellipse cx="1390" cy="406" rx="53" ry="49"/>
 <ellipse cx="1619" cy="407" rx="52" ry="48"/>
 <ellipse cx="1412" cy="686" rx="56" ry="57"/>
 <ellipse cx="1620" cy="686" rx="54" ry="57"/>
 <ellipse cx="1401" cy="907" rx="56" ry="53"/>
 <ellipse cx="1617" cy="907" rx="56" ry="53"/>
</g>
<g stroke="#666" stroke-width="1">
 <rect x="1708" y="88" width="16" height="177" fill="url(#cbar)"/>
 <rect x="1713" y="327" width="15" height="176" fill="url(#cbar)"/>
 <rect x="1714" y="596" width="14" height="176" fill="url(#cbar)"/>
 <rect x="1711" y="823" width="15" height="174" fill="url(#cbar)"/>
</g>
<g font-size="13" style="fill:#3a3a3a">
 <text x="1727" y="95" textLength="25" lengthAdjust="spacingAndGlyphs">700</text>
 <text x="1727" y="153" textLength="25" lengthAdjust="spacingAndGlyphs">600</text>
 <text x="1727" y="212" textLength="25" lengthAdjust="spacingAndGlyphs">500</text>
 <text x="1727" y="270" textLength="25" lengthAdjust="spacingAndGlyphs">400</text>
 <text x="1732" y="333" textLength="26" lengthAdjust="spacingAndGlyphs">700</text>
 <text x="1732" y="392" textLength="26" lengthAdjust="spacingAndGlyphs">600</text>
 <text x="1732" y="450" textLength="26" lengthAdjust="spacingAndGlyphs">500</text>
 <text x="1732" y="508" textLength="26" lengthAdjust="spacingAndGlyphs">400</text>
 <text x="1732" y="601" textLength="25" lengthAdjust="spacingAndGlyphs">700</text>
 <text x="1732" y="660" textLength="25" lengthAdjust="spacingAndGlyphs">600</text>
 <text x="1732" y="719" textLength="25" lengthAdjust="spacingAndGlyphs">500</text>
 <text x="1732" y="777" textLength="25" lengthAdjust="spacingAndGlyphs">400</text>
 <text x="1731" y="828" textLength="25" lengthAdjust="spacingAndGlyphs">700</text>
 <text x="1731" y="886" textLength="25" lengthAdjust="spacingAndGlyphs">600</text>
 <text x="1731" y="944" textLength="25" lengthAdjust="spacingAndGlyphs">500</text>
 <text x="1731" y="1002" textLength="25" lengthAdjust="spacingAndGlyphs">400</text>
</g>

<!-- ================= PANEL E ================= -->
<text x="1818" y="102" font-size="46">E</text>
<text transform="translate(1882,301) rotate(-90)" text-anchor="middle" font-size="33" textLength="288" lengthAdjust="spacingAndGlyphs"><tspan style="font-weight:normal">∆</tspan>Intensity (a.u.)</text>
<rect x="2022" y="232" width="141" height="241" fill="#f0fbbf" stroke="#111" stroke-width="5"/>
<rect x="2241" y="362" width="143" height="111" fill="#fbc07e" stroke="#111" stroke-width="5"/>
<g stroke="#111" stroke-width="4" fill="none">
 <path d="M2093,232 V212 M2057,212 H2128"/>
 <path d="M2313,362 V342 M2278,342 H2349"/>
 <rect x="1946" y="132" width="514" height="341" stroke-width="3"/>
 <path d="M1946,130 V475 M1944,473 H2461"/>
 <path d="M1937,132 H1946 M1937,218 H1946 M1937,303 H1946 M1937,388 H1946 M1937,473 H1946"/>
 <path d="M2093,473 V484 M2313,473 V484"/>
</g>
<path d="M2096,181 H2312" stroke="#111" stroke-width="5"/>
<text x="2206" y="186" font-size="44" text-anchor="middle" textLength="54" lengthAdjust="spacingAndGlyphs">***</text>
<g font-size="23" text-anchor="end">
 <text x="1932" y="140">50</text>
 <text x="1932" y="226">40</text>
 <text x="1932" y="311">30</text>
 <text x="1932" y="396">20</text>
 <text x="1932" y="481">10</text>
</g>
<g font-size="31" text-anchor="middle">
 <text x="2093" y="520" textLength="93" lengthAdjust="spacingAndGlyphs">15 nm</text>
 <text x="2312" y="520" textLength="94" lengthAdjust="spacingAndGlyphs">30 nm</text>
</g>

<!-- ================= PANEL F ================= -->
<text x="1813" y="619" font-size="46">F</text>
<text transform="translate(1865,826) rotate(-90)" text-anchor="middle" font-size="33" textLength="355" lengthAdjust="spacingAndGlyphs">Requirement amount</text>
<text transform="translate(1909,826) rotate(-90)" text-anchor="middle" font-size="33" textLength="189" lengthAdjust="spacingAndGlyphs">(μg/ml/a.u.)</text>
<g stroke="#111" fill="none">
 <rect x="1974" y="663" width="489" height="326" stroke-width="3"/>
 <path d="M1974,661 V991 M1972,989 H2463" stroke-width="4"/>
 <path d="M1964,663 H1974 M1964,771 H1974 M1964,880 H1974 M1964,989 H1974" stroke-width="4"/>
 <path d="M2100,989 V1000 M2346,989 V1000" stroke-width="4"/>
</g>
<g font-size="23" text-anchor="end">
 <text x="1962" y="671">2.5</text>
 <text x="1962" y="779">2.0</text>
 <text x="1962" y="888">1.5</text>
 <text x="1962" y="997">1.0</text>
</g>
<rect x="2001" y="683" width="29" height="29" fill="#f0fbbf" stroke="#111" stroke-width="4"/>
<rect x="2001" y="727" width="29" height="29" fill="#fbbf7e" stroke="#111" stroke-width="4"/>
<text x="2054" y="710" font-size="33" textLength="101" lengthAdjust="spacingAndGlyphs">15 nm</text>
<text x="2054" y="754" font-size="33" textLength="101" lengthAdjust="spacingAndGlyphs">30 nm</text>
<g transform="translate(2100,924)">
 <path d="M0,-40 C2,-30 20,-26 45,-24 C58,-22 60,-16 57,-10 C54,-5 54,0 58,5 C61,12 58,20 45,23 C20,26 3,30 0,40 C-3,30 -20,26 -45,23 C-58,20 -61,12 -58,5 C-54,0 -54,-5 -57,-10 C-60,-16 -58,-22 -45,-24 C-20,-26 -2,-30 0,-40 Z" fill="#f0fbbf" stroke="#111" stroke-width="4"/>
 <path d="M-42,0 H42" stroke="#222" stroke-width="3" stroke-dasharray="8 5"/>
 <path d="M-44,-13 H44 M-44,14 H44" stroke="#222" stroke-width="3" stroke-dasharray="0.1 7.5" stroke-linecap="round"/>
</g>
<g transform="translate(2346,752)">
 <path d="M0,-40 C2,-30 20,-26 45,-24 C58,-22 60,-16 57,-10 C54,-5 54,0 58,5 C61,12 58,20 45,23 C20,26 3,30 0,40 C-3,30 -20,26 -45,23 C-58,20 -61,12 -58,5 C-54,0 -54,-5 -57,-10 C-60,-16 -58,-22 -45,-24 C-20,-26 -2,-30 0,-40 Z" fill="#fbbf7e" stroke="#111" stroke-width="4"/>
 <path d="M-42,0 H42" stroke="#222" stroke-width="3" stroke-dasharray="8 5"/>
 <path d="M-44,-13 H44 M-44,14 H44" stroke="#222" stroke-width="3" stroke-dasharray="0.1 7.5" stroke-linecap="round"/>
</g>
<path d="M2097,841 H2343" stroke="#111" stroke-width="5"/>
<text x="2221" y="848" font-size="44" text-anchor="middle" textLength="54" lengthAdjust="spacingAndGlyphs">***</text>
</svg>
</body></html>
